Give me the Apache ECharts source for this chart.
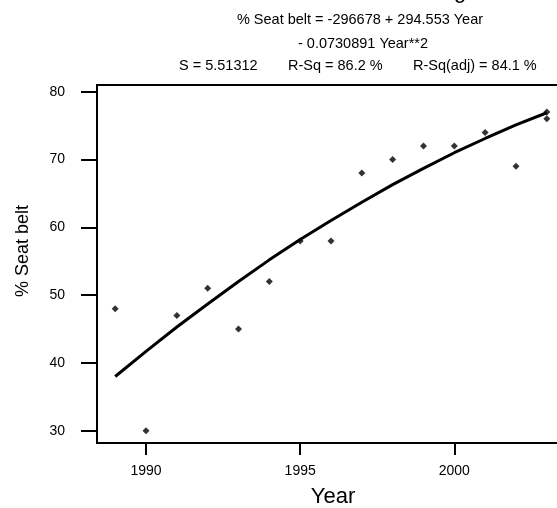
<!DOCTYPE html>
<html>
<head>
<meta charset="utf-8">
<script src="https://cdn.jsdelivr.net/npm/echarts@6/dist/echarts.min.js"></script>
<style>
  html, body { margin: 0; padding: 0; background: #fff; }
  #chart { width: 557px; height: 508px; }
</style>
</head>
<body>
<div id="chart"></div>
<script>
// observed seat belt usage by year
const years = [1989, 1990, 1991, 1992, 1993, 1994, 1995, 1996, 1997, 1998, 1999, 2000, 2001, 2002, 2003, 2003]
const seatBelt = [48, 30, 47, 51, 45, 52, 58, 58, 68, 70, 72, 72, 74, 69, 77, 76]

// fitted quadratic values
const fitYears = [1989, 1990, 1991, 1992, 1993, 1994, 1995, 1996, 1997, 1998, 1999, 2000, 2001, 2002, 2003]
const fitted = [38.0, 41.7, 45.3, 48.7, 52.0, 55.2, 58.2, 61.0, 63.7, 66.3, 68.7, 71.0, 73.1, 75.1, 76.9]

const xTicks = [1990, 1995, 2000]
const yTicks = [30, 40, 50, 60, 70, 80]

const font = '"Liberation Sans", Arial, sans-serif'
const small = '14.5px ' + font

const chart = echarts.init(document.getElementById('chart'))

const axisCommon = {
  axisLine: { show: true, lineStyle: { color: '#000', width: 2 } },
  axisTick: { show: true, lineStyle: { color: '#000', width: 2 } },
  splitLine: { show: false },
}

chart.setOption({
  animation: false,
  backgroundColor: '#fff',
  grid: {
    left: 97, top: 85, width: 472, height: 358,
    outerBoundsMode: 'none',
    containLabel: false,
    show: true, borderColor: '#000', borderWidth: 2,
  },
  xAxis: {
    type: 'value',
    min: 1988.41, max: 2003.72,
    ...axisCommon,
    axisTick: { ...axisCommon.axisTick, length: 12, customValues: xTicks },
    axisLabel: { color: '#000', fontSize: 14, fontFamily: font, margin: 21, customValues: xTicks, formatter: v => String(v) },
    name: 'Year',
    nameLocation: 'middle',
    nameGap: 43,
    nameTextStyle: { color: '#000', fontSize: 22, fontFamily: font },
  },
  yAxis: {
    type: 'value',
    min: 28.19, max: 80.99,
    ...axisCommon,
    axisTick: { ...axisCommon.axisTick, length: 16, customValues: yTicks },
    axisLabel: { color: '#000', fontSize: 14, fontFamily: font, margin: 32, customValues: yTicks },
  },
  graphic: [
    { type: 'text', x: 426, y: -8, style: { text: 'Regression Plot', font: '22px ' + font, fill: '#000', verticalAlign: 'middle' } },
    { type: 'text', x: 360, y: 20, style: { text: '% Seat belt = -296678 + 294.553 Year', font: small, fill: '#000', align: 'center', verticalAlign: 'middle' } },
    { type: 'text', x: 363, y: 44, style: { text: '- 0.0730891 Year**2', font: small, fill: '#000', align: 'center', verticalAlign: 'middle' } },
    { type: 'text', x: 179, y: 66, style: { text: 'S = 5.51312', font: small, fill: '#000', verticalAlign: 'middle' } },
    { type: 'text', x: 288, y: 66, style: { text: 'R-Sq = 86.2 %', font: small, fill: '#000', verticalAlign: 'middle' } },
    { type: 'text', x: 413, y: 66, style: { text: 'R-Sq(adj) = 84.1 %', font: small, fill: '#000', verticalAlign: 'middle' } },
    { type: 'text', x: 23, y: 251, rotation: Math.PI / 2, style: { text: '% Seat belt', font: '18px ' + font, fill: '#000', align: 'center', verticalAlign: 'middle' } },
  ],
  series: [
    {
      type: 'line',
      data: fitYears.map((y, i) => [y, fitted[i]]),
      symbol: 'none',
      lineStyle: { color: '#000', width: 3 },
      z: 2,
    },
    {
      type: 'scatter',
      data: years.map((y, i) => [y, seatBelt[i]]),
      symbol: 'diamond',
      symbolSize: 7,
      itemStyle: { color: '#000' },
      z: 3,
    },
  ],
})
</script>
</body>
</html>
